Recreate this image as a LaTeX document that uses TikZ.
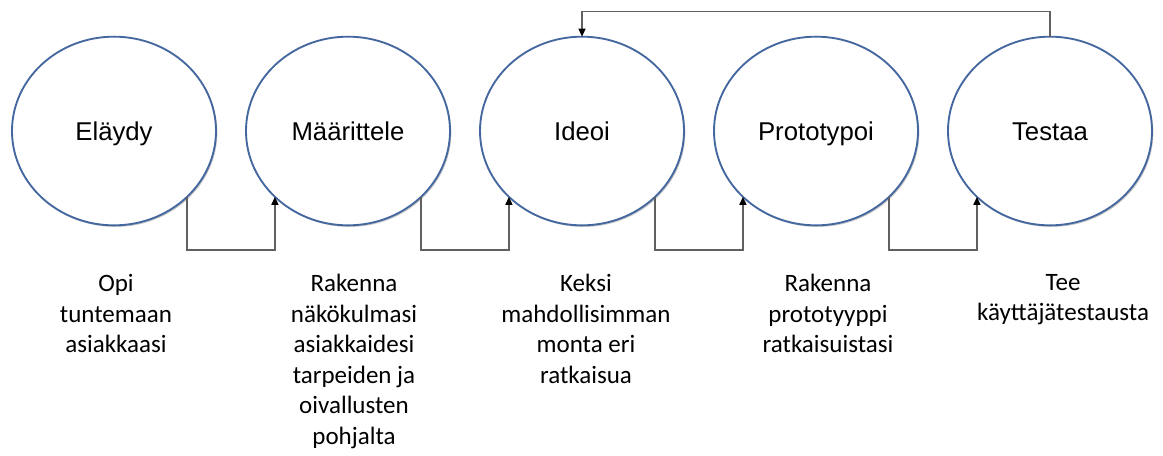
\documentclass[tikz,border=0pt]{standalone}
\usepackage{fontspec}
\setmainfont{Liberation Sans}
\newfontfamily\descfont{Carlito}
\usepackage{tikz}
\usepackage{xcolor}
\usetikzlibrary{arrows.meta,shapes.geometric,shadows}
\definecolor{phaseblue}{HTML}{44679F}
\definecolor{flowgray}{HTML}{606060}

\begin{document}
\begin{tikzpicture}[x=0.75pt,y=0.75pt,
  phase/.style={ellipse,draw=phaseblue,line width=1.4pt,fill=white,
    minimum width=153pt,minimum height=141.5pt,inner sep=0pt,outer sep=0pt,
    text height=17.5pt,text depth=4pt,
    drop shadow={shadow xshift=1pt,shadow yshift=-1.2pt,opacity=0.22,fill=black},
    font=\fontsize{19.3}{23}\selectfont},
  desc/.style={align=center,anchor=north,inner sep=0pt,
    execute at begin node=\strut,
    font=\descfont\fontsize{18.75}{22.9}\selectfont},
  flow/.style={draw=flowgray,line width=1.1pt,
    -{Triangle[length=6pt,width=5.2pt,color=black]}}]
\useasboundingbox (0,0) rectangle (1163,-455);
\node[phase] (elaydy) at (114,-131) {Eläydy};
\node[phase] (maarittele) at (348,-131) {Määrittele};
\node[phase] (ideoi) at (582,-131) {Ideoi};
\node[phase] (prototypoi) at (816,-131) {Prototypoi};
\node[phase] (testaa) at (1050,-131) {Testaa};
\node[desc] (d1) at (116,-274) {Opi\\tuntemaan\\asiakkaasi};
\node[desc] (d2) at (354,-274) {Rakenna\\näkökulmasi\\asiakkaidesi\\tarpeiden ja\\oivallusten\\pohjalta};
\node[desc] (d3) at (586,-274) {Keksi\\mahdollisimman\\monta eri\\ratkaisua};
\node[desc] (d4) at (828,-274) {Rakenna\\prototyyppi\\ratkaisuistasi};
\node[desc] (d5) at (1063,-274) {Tee\\käyttäjätestausta};
\draw[flow] (elaydy.-42) -- ++(0,-53) -| (maarittele.-138);
\draw[flow] (maarittele.-42) -- ++(0,-53) -| (ideoi.-138);
\draw[flow] (ideoi.-42) -- ++(0,-53) -| (prototypoi.-138);
\draw[flow] (prototypoi.-42) -- ++(0,-53) -| (testaa.-138);
\draw[flow] (testaa.north) -- ++(0,25) -| (ideoi.north);
\end{tikzpicture}
\end{document}
